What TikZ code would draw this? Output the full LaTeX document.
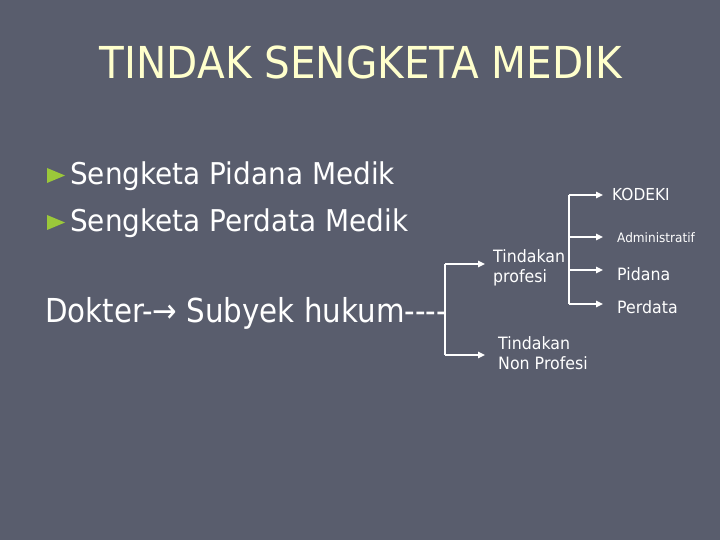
\documentclass[tikz,border=0pt]{standalone}
\usepackage{fontspec}
\setmainfont{DejaVu Sans}[FakeStretch=0.93, Ligatures=NoCommon]
\usetikzlibrary{arrows.meta}
\definecolor{bg}{RGB}{89,93,109}
\definecolor{ttl}{RGB}{255,255,204}
\definecolor{grn}{RGB}{155,200,58}
\tikzset{
  txt/.style={text=white, inner sep=0pt},
  ln/.style={draw=white, line width=1.4pt},
  arr/.style={draw=white, line width=1.4pt, -{Triangle[length=7pt,width=6.5pt]}},
  bul/.style={fill=grn}
}
\begin{document}
\begin{tikzpicture}[x=1pt,y=-1pt]
\fill[bg] (0,0) rectangle (720,540);
\useasboundingbox (0,0) rectangle (720,540);

% title
\node[anchor=base, text=ttl, inner sep=0pt, font=\fontsize{44}{50}\selectfont] (title) at (361,79) {\scalebox{0.99}[1]{TINDAK SENGKETA MEDIK}};

% bullets
\fill[bul] (47,168) -- (65,175.5) -- (47,183) -- cycle;
\fill[bul] (47,215) -- (65,222.5) -- (47,230) -- cycle;
\node[txt, anchor=base west, font=\fontsize{30}{36}\selectfont] (s1) at (70,185) {Sengketa Pidana Medik};
\node[txt, anchor=base west, font=\fontsize{30}{36}\selectfont] (s2) at (70,232) {Sengketa Perdata Medik};

% subject line
\node[txt, anchor=base west, font=\fontsize{33}{40}\selectfont] (dok) at (45,322) {\scalebox{0.955}[1]{Dokter-→ Subyek hukum-{}-{}-{}-}};

% first bracket
\coordinate (b1t) at (445,264);
\coordinate (b1b) at (445,355);
\node[txt, anchor=north west, align=left, font=\fontsize{17}{20}\selectfont] (tp) at (493,249) {Tindakan\\profesi};
\node[txt, anchor=north west, align=left, font=\fontsize{17}{20}\selectfont] (tnp) at (498,336) {Tindakan\\Non Profesi};
\draw[ln] (b1t) -- (b1b);
\draw[arr, shorten >=8pt] (b1t) -- (b1t -| tp.west);
\draw[arr, shorten >=13pt] (b1b) -- (b1b -| tnp.west);

% second bracket
\coordinate (b2a) at (569,195);
\coordinate (b2b) at (569,237);
\coordinate (b2c) at (569,270);
\coordinate (b2d) at (569,304);
\node[txt, anchor=base west, font=\fontsize{16.5}{20}\selectfont] (kod) at (612,201) {KODEKI};
\node[txt, anchor=base west, font=\fontsize{13}{16}\selectfont] (adm) at (617,242) {Administratif};
\node[txt, anchor=base west, font=\fontsize{17}{20}\selectfont] (pid) at (617,280) {Pidana};
\node[txt, anchor=base west, font=\fontsize{17}{20}\selectfont] (per) at (617,313) {Perdata};
\draw[ln] (b2a) -- (b2d);
\draw[arr, shorten >=9pt] (b2a) -- (b2a -| kod.west);
\draw[arr, shorten >=14pt] (b2b) -- (b2b -| adm.west);
\draw[arr, shorten >=14pt] (b2c) -- (b2c -| pid.west);
\draw[arr, shorten >=14pt] (b2d) -- (b2d -| per.west);
\end{tikzpicture}
\end{document}
